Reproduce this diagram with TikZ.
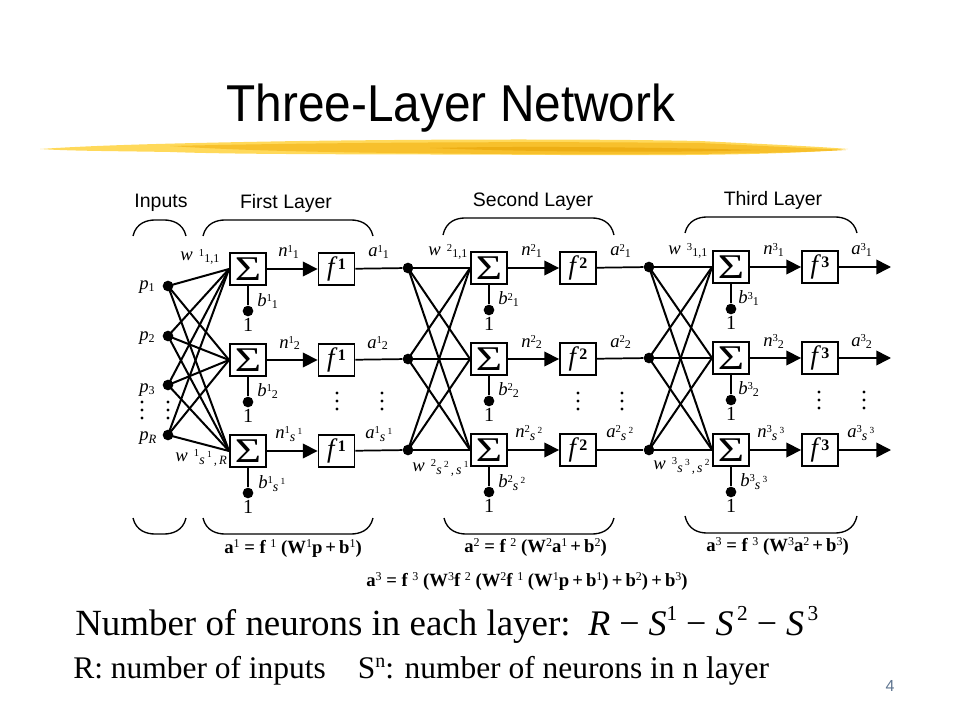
\documentclass[tikz,border=0pt]{standalone}
\usepackage{fontspec}
\setmainfont{Liberation Serif}
\newfontfamily\hv{Liberation Sans}
\usetikzlibrary{arrows.meta}
\definecolor{penA}{HTML}{FFD95A}
\definecolor{penB}{HTML}{F7C02C}
\definecolor{penC}{HTML}{EDAE14}
\definecolor{pagenum}{HTML}{5F7590}
\newcommand\up[1]{\raisebox{3.6pt}{\fontsize{8}{8}\selectfont\upshape #1}}
\newcommand\dn[1]{\raisebox{-1.5pt}{\fontsize{9}{9}\selectfont\upshape #1}}
\newcommand\dni[1]{\raisebox{-2.5pt}{\fontsize{9.5}{9.5}\selectfont\itshape #1}}
\newcommand\ssc[1]{\raisebox{-2.5pt}{\fontsize{10.5}{10.5}\selectfont\itshape s\,\raisebox{5pt}{\fontsize{7}{7}\selectfont\upshape #1}}}
\newcommand\eup[1]{\raisebox{4pt}{\fontsize{9}{9}\selectfont\mdseries #1}}
\newcommand\fsup[1]{\raisebox{4.5pt}{\fontsize{12}{12}\selectfont\bfseries\upshape #1}}
\tikzset{
  x=.75pt,y=-.75pt,
  wire/.style={line width=1.5pt},
  lnk/.style={line width=1.5pt},
  flow/.style={line width=1.2pt,-{Triangle[length=11pt,width=11pt]}},
  plain/.style={line width=1.3pt},
  brace/.style={line width=1pt},
  blk/.style={draw,line width=1.4pt,minimum width=27pt,minimum height=24.5pt,inner sep=0pt,fill=white},
  dotn/.style={circle,fill=black,inner sep=0pt,minimum size=8pt},
  lab/.style={anchor=base west,inner sep=0pt,font=\fontsize{14}{14}\selectfont\itshape},
  one/.style={inner sep=0pt,font=\fontsize{15}{15}\selectfont},
  head/.style={inner sep=0pt,font=\hv\fontsize{14.6}{14.6}\selectfont},
  eq/.style={anchor=base west,inner sep=0pt,font=\fontsize{14}{14}\selectfont\bfseries},
}
\begin{document}
\begin{tikzpicture}
\useasboundingbox (0,0) rectangle (960,720);
% highlighter stroke
\fill[penA] (40,149) .. controls (100,145) and (180,143) .. (300,141) .. controls (450,139) and (600,139) .. (700,141) .. controls (760,144) and (810,146) .. (848,149) .. controls (800,154) and (700,156) .. (560,155) .. controls (400,154) and (250,155) .. (170,152) .. controls (110,151) and (70,151) .. (40,149) -- cycle;
\fill[penB] (170,146) .. controls (300,143) and (500,141) .. (700,143) .. controls (760,146) and (810,148) .. (846,150) .. controls (780,154) and (640,155) .. (500,154) .. controls (380,153) and (260,152) .. (170,146) -- cycle;
\fill[penC] (430,148) .. controls (520,146) and (640,147) .. (760,150) .. controls (660,153) and (530,152) .. (430,148) -- cycle;
% title
\node[inner sep=0pt,anchor=base,font=\hv\fontsize{36}{36}\selectfont] (title) at (451,122) {\scalebox{.995}[1.08]{Three-Layer Network}};
% layers
\foreach \l/\sx/\fx/\ya/\yb/\yc in {1/248/336.5/269/360/451,2/489/578/268/359/450,3/731/820/267/358/450}{
  \foreach \r/\y in {1/\ya,2/\yb,3/\yc}{
    \node[blk] (S\l\r) at (\sx,\y) {\fontsize{26}{26}\selectfont\scalebox{1.3}[1]{Σ}};
    \node[blk] (F\l\r) at (\fx,\y) {\fontsize{20}{20}\selectfont\itshape f\kern2.5pt\fsup{\l}};
    \node[dotn] (B\l\r) at (\sx,\y+42) {};
    \node[one] (U\l\r) at (\sx,\y+56) {1};
    \draw[plain] (S\l\r) -- (B\l\r);
    \draw[flow] (S\l\r) -- (F\l\r);
  }
}
% inputs
\node[dotn] (p1) at (168,286) {};
\node[dotn] (p2) at (168,336) {};
\node[dotn] (p3) at (168,385) {};
\node[dotn] (p4) at (168,435) {};
\foreach \i in {1,2,3,4}{\foreach \r in {1,2,3}{\draw[lnk] (p\i.center) -- (S1\r.west);}}
% junctions
\node[dotn] (J21) at (408,268) {};
\node[dotn] (J22) at (408,359) {};
\node[dotn] (J23) at (408,450) {};
\node[dotn] (J31) at (649,267) {};
\node[dotn] (J32) at (649,358) {};
\node[dotn] (J33) at (649,450) {};
\foreach \r in {1,2,3}{
  \draw[plain] (F1\r) -- (J2\r);
  \draw[plain] (F2\r) -- (J3\r);
  \foreach \q in {1,2,3}{
    \draw[lnk] (J2\r.center) -- (S2\q.west);
    \draw[lnk] (J3\r.center) -- (S3\q.west);
  }
}
\coordinate (E1) at (891,267);
\coordinate (E2) at (891,358);
\coordinate (E3) at (891,450);
\foreach \r in {1,2,3}{\draw[flow] (F3\r) -- (E\r);}
% vertical dots
\foreach \x/\a in {142/402,168/402,337/393,382/393,578/393,622/393,819/392,864/392}{
  \foreach \d in {0,8,16}{\fill (\x,\a+\d) circle (1.6);}
}
% headers
\node[head] (hI) at (161,203) {Inputs};
\node[head] (h1) at (286,203) {First Layer};
\node[head] (h2) at (533,201) {Second Layer};
\node[head] (h3) at (773,200) {Third Layer};
% braces
\foreach \a/\b/\t/\h in {133/186/220/236,203/373/220/236,443/614/218/235,685/857/217/233}{
  \draw[brace] (\a,\h) .. controls (\a+3,\t+3) and (\a+14,\t) .. (\a+22,\t) -- (\b-22,\t) .. controls (\b-14,\t) and (\b-3,\t+3) .. (\b,\h);
}
\foreach \a/\b/\t/\h in {133/186/534/518,203/373/534/518,444/614/534/518,685/857/533/516}{
  \draw[brace] (\a,\h) .. controls (\a+3,\t-3) and (\a+14,\t) .. (\a+22,\t) -- (\b-22,\t) .. controls (\b-14,\t) and (\b-3,\t-3) .. (\b,\h);
}
% input labels
\node[lab] (lp1) at (139,290) {p\dn{1}};
\node[lab] (lp2) at (139,340) {p\dn{2}};
\node[lab] (lp3) at (139,392) {p\dn{3}};
\node[lab] (lp4) at (139,440) {p\dni{R}};
% layer 1 labels
\node[lab] (w11) at (180,261) {w\,\,\up{1}\dn{1,1}};
\node[lab] (n11) at (278,257) {n\up{1}\dn{1}};
\node[lab] (a11) at (368,257) {a\up{1}\dn{1}};
\node[lab] (b11) at (257,306) {b\up{1}\dn{1}};
\node[lab] (n12) at (279,348) {n\up{1}\dn{2}};
\node[lab] (a12) at (367,348) {a\up{1}\dn{2}};
\node[lab] (b12) at (257,396) {b\up{1}\dn{2}};
\node[lab] (n13) at (275,438) {n\up{1}\ssc{1}};
\node[lab] (a13) at (365,438) {a\up{1}\ssc{1}};
\node[lab] (b13) at (258,488) {b\up{1}\ssc{1}};
\node[lab] (w13) at (175,461) {w\,\,\up{1}\ssc{1}\dni{\,,\,R}};
% layer 2 labels
\node[lab] (w21) at (428,256) {w\,\,\up{2}\dn{1,1}};
\node[lab] (n21) at (521,256) {n\up{2}\dn{1}};
\node[lab] (a21) at (610,256) {a\up{2}\dn{1}};
\node[lab] (b21) at (498,305) {b\up{2}\dn{1}};
\node[lab] (n22) at (521,347) {n\up{2}\dn{2}};
\node[lab] (a22) at (610,347) {a\up{2}\dn{2}};
\node[lab] (b22) at (498,395) {b\up{2}\dn{2}};
\node[lab] (n23) at (515,437) {n\up{2}\ssc{2}};
\node[lab] (a23) at (606,437) {a\up{2}\ssc{2}};
\node[lab] (b23) at (498,487) {b\up{2}\ssc{2}};
\node[lab] (w23) at (412,471) {w\,\,\up{2}\ssc{2}\dni{\,,\,}\ssc{1}};
% layer 3 labels
\node[lab] (w31) at (668,255) {w\,\,\up{3}\dn{1,1}};
\node[lab] (n31) at (763,255) {n\up{3}\dn{1}};
\node[lab] (a31) at (851,255) {a\up{3}\dn{1}};
\node[lab] (b31) at (738,304) {b\up{3}\dn{1}};
\node[lab] (n32) at (763,346) {n\up{3}\dn{2}};
\node[lab] (a32) at (851,346) {a\up{3}\dn{2}};
\node[lab] (b32) at (738,394) {b\up{3}\dn{2}};
\node[lab] (n33) at (757,437) {n\up{3}\ssc{3}};
\node[lab] (a33) at (847,437) {a\up{3}\ssc{3}};
\node[lab] (b33) at (740,486) {b\up{3}\ssc{3}};
\node[lab] (w33) at (653,469) {w\,\,\up{3}\ssc{3}\dni{\,,\,}\ssc{2}};
% equations
\node[eq] (e1) at (224,553) {a\eup{1} = f \eup{1} (W\eup{1}p\,+\,b\eup{1})};
\node[eq] (e2) at (464,552) {a\eup{2} = f \eup{2} (W\eup{2}a\eup{1}\,+\,b\eup{2})};
\node[eq] (e3) at (706,551) {a\eup{3} = f \eup{3} (W\eup{3}a\eup{2}\,+\,b\eup{3})};
\node[eq] (e4) at (366,586) {a\eup{3} = f \eup{3} (W\eup{3}f \eup{2} (W\eup{2}f \eup{1} (W\eup{1}p\,+\,b\eup{1})\,+\,b\eup{2})\,+\,b\eup{3})};
% bottom text
\node[anchor=base west,inner sep=0pt,font=\fontsize{27.7}{27.7}\selectfont] (t1) at (75,635) {Number of neurons in each layer:};
\node[anchor=base west,inner sep=0pt,font=\fontsize{27}{27}\selectfont\itshape] (t2) at (588,635) {R \upshape− \itshape S\raisebox{11pt}{\fontsize{16}{16}\selectfont\upshape 1} \upshape− \itshape S\raisebox{11pt}{\fontsize{16}{16}\selectfont\upshape\,2} \upshape− \itshape S\raisebox{11pt}{\fontsize{16}{16}\selectfont\upshape\,3}};
\node[anchor=base west,inner sep=0pt,font=\fontsize{23.6}{23.6}\selectfont] (t3) at (73,678) {R: number of inputs\hspace{24pt}S\raisebox{8pt}{\fontsize{15}{15}\selectfont n}: number of neurons in n layer};
\node[anchor=base,inner sep=0pt,text=pagenum,font=\hv\fontsize{12}{12}\selectfont] (pg) at (890,691) {4};
\end{tikzpicture}
\end{document}
